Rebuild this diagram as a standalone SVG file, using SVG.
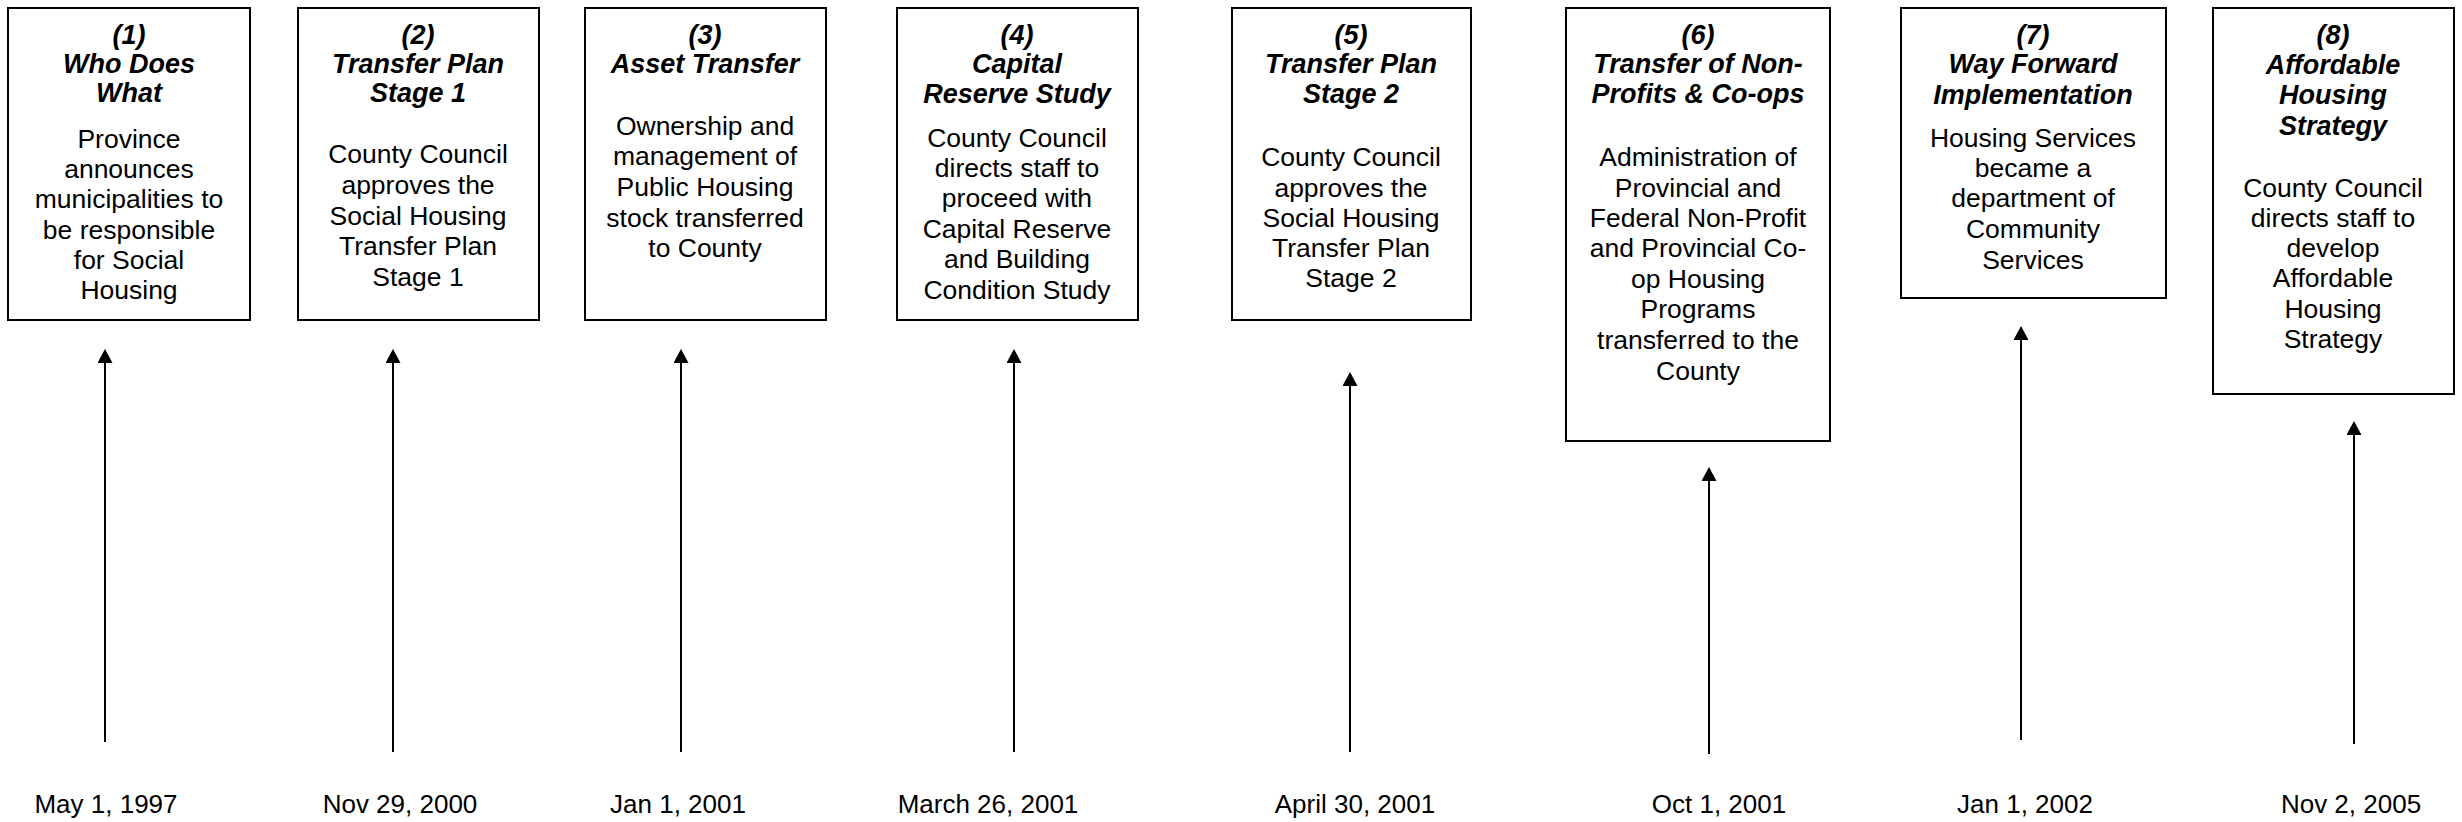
<svg xmlns="http://www.w3.org/2000/svg" width="2462" height="822" viewBox="0 0 2462 822">
<style>
.box{fill:#fff;stroke:#000;stroke-width:2}
text{font-family:"Liberation Sans",Arial,sans-serif;font-size:26.5px;fill:#000;text-anchor:middle}
.t{font-weight:bold;font-style:italic;font-size:27px}
.d{font-size:26px}
.c line{stroke:#000;stroke-width:2}
</style>
<defs>
<marker id="ah" markerUnits="userSpaceOnUse" markerWidth="15" markerHeight="15" refX="3" refY="7.5" orient="auto">
<path d="M0,0 L14,7.5 L0,15 z" fill="#000"/>
</marker>
</defs>
<rect width="2462" height="822" fill="#fff"/>
<g id="n1">
<rect class="box" x="8" y="8" width="242" height="312"/>
<text x="129"><tspan class="t" x="129" y="44">(1)</tspan><tspan class="t" x="129" y="73">Who Does</tspan><tspan class="t" x="129" y="102">What</tspan><tspan x="129" y="148">Province</tspan><tspan x="129" y="178">announces</tspan><tspan x="129" y="208">municipalities to</tspan><tspan x="129" y="239">be responsible</tspan><tspan x="129" y="269">for Social</tspan><tspan x="129" y="299">Housing</tspan></text>
</g>
<g id="n2">
<rect class="box" x="298" y="8" width="241" height="312"/>
<text x="418"><tspan class="t" x="418" y="44">(2)</tspan><tspan class="t" x="418" y="73">Transfer Plan</tspan><tspan class="t" x="418" y="102">Stage 1</tspan><tspan x="418" y="163">County Council</tspan><tspan x="418" y="194">approves the</tspan><tspan x="418" y="225">Social Housing</tspan><tspan x="418" y="255">Transfer Plan</tspan><tspan x="418" y="286">Stage 1</tspan></text>
</g>
<g id="n3">
<rect class="box" x="585" y="8" width="241" height="312"/>
<text x="705"><tspan class="t" x="705" y="44">(3)</tspan><tspan class="t" x="705" y="73">Asset Transfer</tspan><tspan x="705" y="135">Ownership and</tspan><tspan x="705" y="165">management of</tspan><tspan x="705" y="196">Public Housing</tspan><tspan x="705" y="227">stock transferred</tspan><tspan x="705" y="257">to County</tspan></text>
</g>
<g id="n4">
<rect class="box" x="897" y="8" width="241" height="312"/>
<text x="1017"><tspan class="t" x="1017" y="44">(4)</tspan><tspan class="t" x="1017" y="73">Capital</tspan><tspan class="t" x="1017" y="103">Reserve Study</tspan><tspan x="1017" y="147">County Council</tspan><tspan x="1017" y="177">directs staff to</tspan><tspan x="1017" y="207">proceed with</tspan><tspan x="1017" y="238">Capital Reserve</tspan><tspan x="1017" y="268">and Building</tspan><tspan x="1017" y="299">Condition Study</tspan></text>
</g>
<g id="n5">
<rect class="box" x="1232" y="8" width="239" height="312"/>
<text x="1351"><tspan class="t" x="1351" y="44">(5)</tspan><tspan class="t" x="1351" y="73">Transfer Plan</tspan><tspan class="t" x="1351" y="103">Stage 2</tspan><tspan x="1351" y="166">County Council</tspan><tspan x="1351" y="197">approves the</tspan><tspan x="1351" y="227">Social Housing</tspan><tspan x="1351" y="257">Transfer Plan</tspan><tspan x="1351" y="287">Stage 2</tspan></text>
</g>
<g id="n6">
<rect class="box" x="1566" y="8" width="264" height="433"/>
<text x="1698"><tspan class="t" x="1698" y="44">(6)</tspan><tspan class="t" x="1698" y="73">Transfer of Non-</tspan><tspan class="t" x="1698" y="103">Profits &amp; Co-ops</tspan><tspan x="1698" y="166">Administration of</tspan><tspan x="1698" y="197">Provincial and</tspan><tspan x="1698" y="227">Federal Non-Profit</tspan><tspan x="1698" y="257">and Provincial Co-</tspan><tspan x="1698" y="288">op Housing</tspan><tspan x="1698" y="318">Programs</tspan><tspan x="1698" y="349">transferred to the</tspan><tspan x="1698" y="380">County</tspan></text>
</g>
<g id="n7">
<rect class="box" x="1901" y="8" width="265" height="290"/>
<text x="2033"><tspan class="t" x="2033" y="44">(7)</tspan><tspan class="t" x="2033" y="73">Way Forward</tspan><tspan class="t" x="2033" y="104">Implementation</tspan><tspan x="2033" y="147">Housing Services</tspan><tspan x="2033" y="177">became a</tspan><tspan x="2033" y="207">department of</tspan><tspan x="2033" y="238">Community</tspan><tspan x="2033" y="269">Services</tspan></text>
</g>
<g id="n8">
<rect class="box" x="2213" y="8" width="241" height="386"/>
<text x="2333"><tspan class="t" x="2333" y="44">(8)</tspan><tspan class="t" x="2333" y="74">Affordable</tspan><tspan class="t" x="2333" y="104">Housing</tspan><tspan class="t" x="2333" y="135">Strategy</tspan><tspan x="2333" y="197">County Council</tspan><tspan x="2333" y="227">directs staff to</tspan><tspan x="2333" y="257">develop</tspan><tspan x="2333" y="287">Affordable</tspan><tspan x="2333" y="318">Housing</tspan><tspan x="2333" y="348">Strategy</tspan></text>
</g>
<g id="connectors" class="c">
<line x1="105" y1="742" x2="105" y2="360" marker-end="url(#ah)"/>
<line x1="393" y1="752" x2="393" y2="360" marker-end="url(#ah)"/>
<line x1="681" y1="752" x2="681" y2="360" marker-end="url(#ah)"/>
<line x1="1014" y1="752" x2="1014" y2="360" marker-end="url(#ah)"/>
<line x1="1350" y1="752" x2="1350" y2="383" marker-end="url(#ah)"/>
<line x1="1709" y1="754" x2="1709" y2="478" marker-end="url(#ah)"/>
<line x1="2021" y1="740" x2="2021" y2="337" marker-end="url(#ah)"/>
<line x1="2354" y1="744" x2="2354" y2="432" marker-end="url(#ah)"/>
</g>
<g id="dates">
<text class="d" x="106" y="813">May 1, 1997</text>
<text class="d" x="400" y="813">Nov 29, 2000</text>
<text class="d" x="678" y="813">Jan 1, 2001</text>
<text class="d" x="988" y="813">March 26, 2001</text>
<text class="d" x="1355" y="813">April 30, 2001</text>
<text class="d" x="1719" y="813">Oct 1, 2001</text>
<text class="d" x="2025" y="813">Jan 1, 2002</text>
<text class="d" x="2351" y="813">Nov 2, 2005</text>
</g>
</svg>
